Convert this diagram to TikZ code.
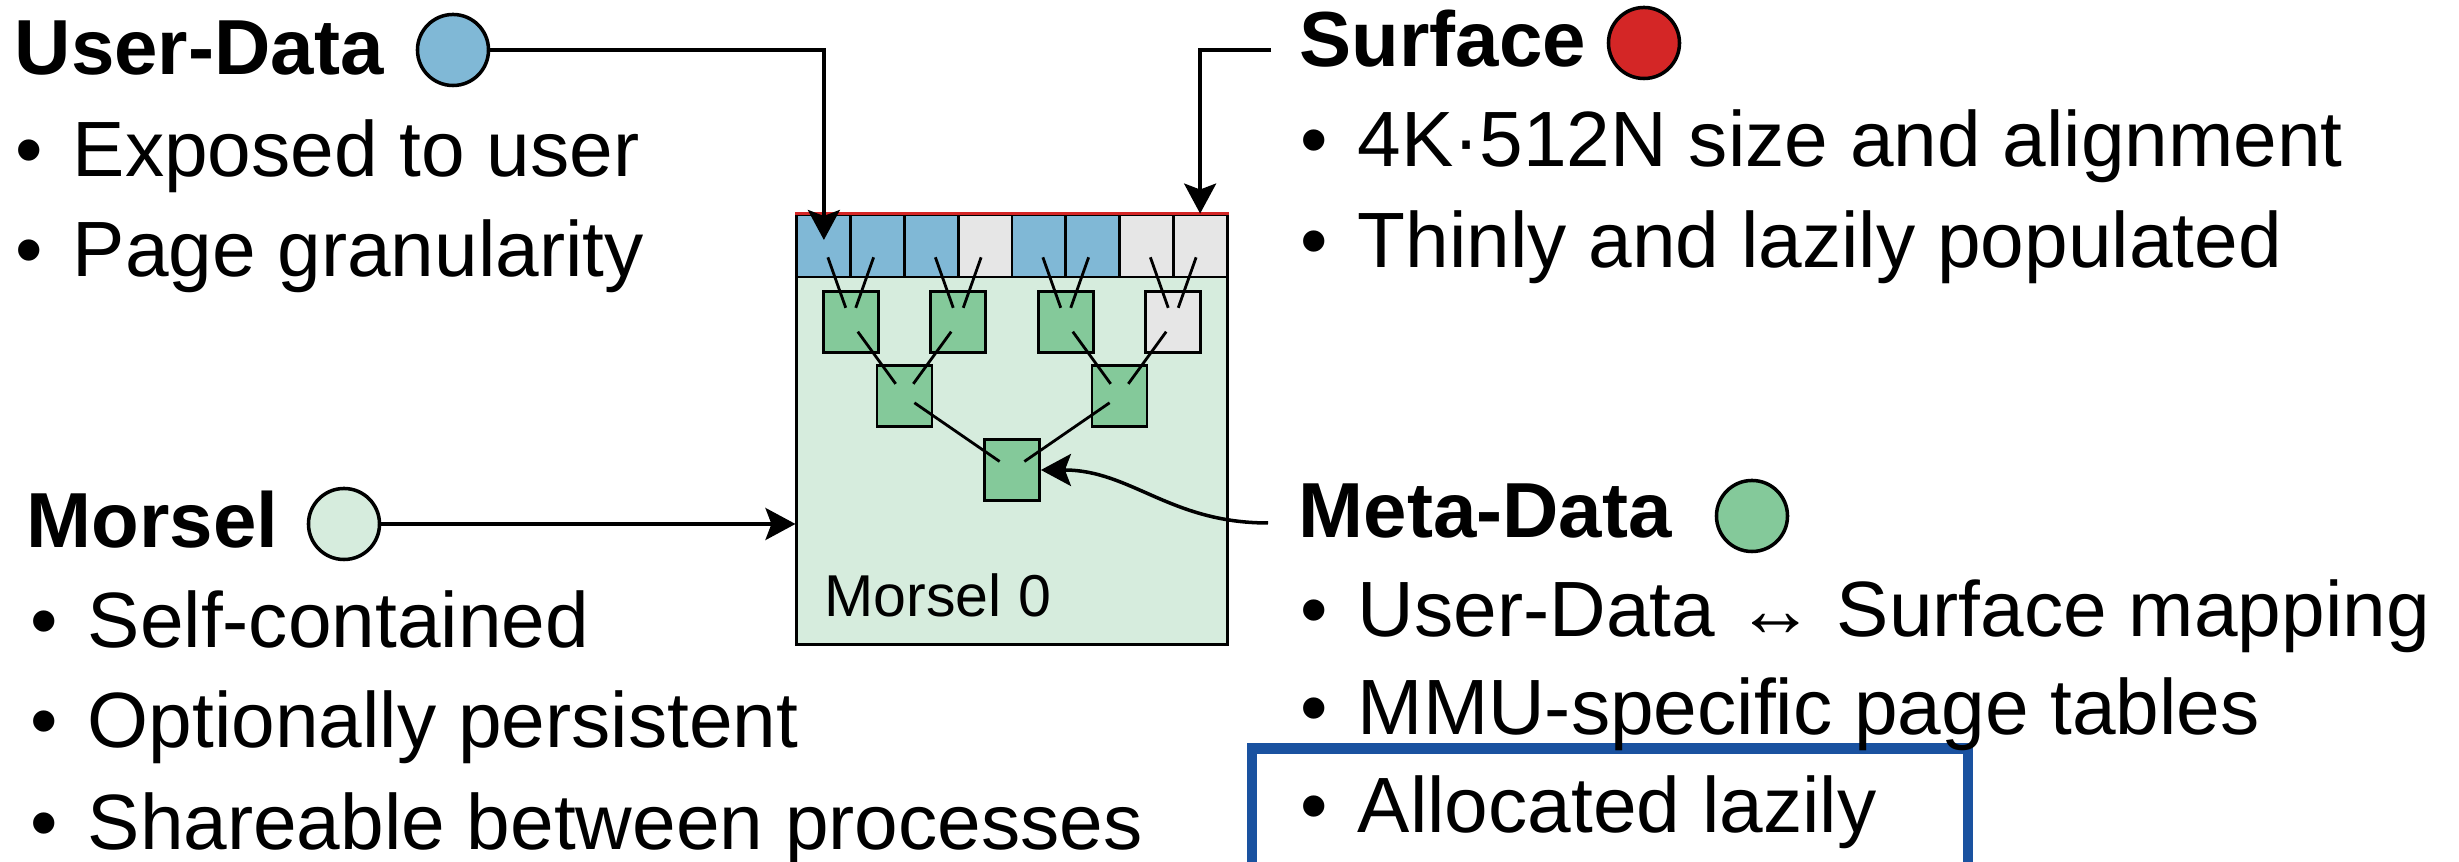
\documentclass[tikz,border=0pt]{standalone}
\usepackage{fontspec}
\setmainfont{Liberation Sans}
\usetikzlibrary{positioning, arrows.meta, calc}

\definecolor{udblue}{RGB}{128,184,214}
\definecolor{sfred}{RGB}{212,38,38}
\definecolor{mslight}{RGB}{214,236,221}
\definecolor{mdgreen}{RGB}{132,201,154}
\definecolor{freegray}{RGB}{230,230,230}
\definecolor{hlblue}{RGB}{26,82,160}

\newcommand{\bul}{\makebox[5.7mm][l]{\textbullet}}

\begin{document}
\begin{tikzpicture}[
    x=0.01cm, y=-0.01cm,
    >=Stealth,
    head/.style={anchor=base west, inner sep=0pt,
                 font=\fontsize{22.2}{26}\selectfont\bfseries},
    item/.style={anchor=base west, inner sep=0pt,
                 font=\fontsize{22.3}{26}\selectfont},
    dot/.style={circle, draw, line width=1pt, minimum size=7.1mm, inner sep=0pt},
    morsel/.style={rectangle, draw, line width=0.8pt, fill=mslight,
                   minimum width=43mm, minimum height=42.9mm},
    cell/.style={rectangle, draw, line width=0.8pt,
                 minimum width=5.375mm, minimum height=6.2mm, inner sep=0pt},
    tbox/.style={rectangle, draw, line width=0.8pt, fill=mdgreen,
                 minimum width=5.5mm, minimum height=6.1mm, inner sep=0pt},
    link/.style={line width=0.8pt, shorten <=1.2mm, shorten >=1.5mm},
    arrow/.style={-{Stealth[length=3mm, width=3.2mm, inset=0.6mm]}, line width=1pt}
]
  \useasboundingbox (0,0) rectangle (2459,862);

  % morsel with its pages
  \node[morsel] (ms) at (1012,429.5) {};
  \foreach \i/\c in {1/udblue,2/udblue,3/udblue,4/freegray,
                     5/udblue,6/udblue,7/freegray,8/freegray}
    \node[cell, fill=\c] (c\i) at ({797+53.75*(\i-0.5)},246) {};
  \draw[sfred, line width=0.9pt] (ms.north west) -- (ms.north east);
  \node[anchor=base west, inner sep=0pt, font=\fontsize{16.8}{20}\selectfont]
    (mslabel) at (824,617) {Morsel 0};

  % page table tree
  \node[tbox] (l1a) at ($(c1)!0.5!(c2)+(0,76)$) {};
  \node[tbox] (l1b) at ($(c3)!0.5!(c4)+(0,76)$) {};
  \node[tbox] (l1c) at ($(c5)!0.5!(c6)+(0,76)$) {};
  \node[tbox, fill=freegray] (l1d) at ($(c7)!0.5!(c8)+(0,76)$) {};
  \node[tbox] (l2a) at ($(l1a)!0.5!(l1b)+(0,74)$) {};
  \node[tbox] (l2b) at ($(l1c)!0.5!(l1d)+(0,74)$) {};
  \node[tbox] (l3) at ($(l2a)!0.5!(l2b)+(0,74)$) {};
  \foreach \a/\b in {c1/l1a, c2/l1a, c3/l1b, c4/l1b, c5/l1c, c6/l1c, c7/l1d, c8/l1d,
                     l1a/l2a, l1b/l2a, l1c/l2b, l1d/l2b, l2a/l3, l2b/l3}
    \draw[link] (\a.center) -- (\b.center);

  % highlight
  \draw[hlblue, line width=3pt] (1252,870) |- (1968,748.5) -- (1968,870);

  % User-Data
  \node[head] (udtitle) at (14,75) {User-Data};
  \node[dot, fill=udblue] (uddot) at (453,50) {};
  \node[item] (ud1) at (15,177) {\bul Exposed to user};
  \node[item] (ud2) at (15,277) {\bul Page granularity};

  % Surface
  \node[head] (sftitle) at (1299,67) {Surface};
  \node[dot, fill=sfred] (sfdot) at (1644,43) {};
  \node[item] (sf1) at (1300,167) {\bul 4K·512N size and alignment};
  \node[item] (sf2) at (1300,268) {\bul Thinly and lazily populated};

  % Morsel
  \node[head] (mstitle) at (26,548) {Morsel};
  \node[dot, fill=mslight] (msdot) at (344,524) {};
  \node[item] (ms1) at (30,648) {\bul Self-contained};
  \node[item] (ms2) at (30,748) {\bul Optionally persistent};
  \node[item] (ms3) at (30,850) {\bul Shareable between processes};

  % Meta-Data
  \node[head] (mdtitle) at (1298,538) {Meta-Data};
  \node[dot, fill=mdgreen] (mddot) at (1752,516) {};
  \node[item] (md1) at (1300,637) {\bul User-Data ↔ Surface mapping};
  \node[item] (md2) at (1300,735) {\bul MMU-specific page tables};
  \node[item] (md3) at (1300,833) {\bul Allocated lazily};

  \coordinate (sfin) at (1271,50);
  \coordinate (mdin) at (1268,523);

  \draw[arrow, shorten >=0.6mm] (uddot.east) -| (c1.center);
  \draw[arrow] (sfin) -| (c8.north);
  \draw[arrow] (msdot.east) -- (msdot -| ms.west);
  \draw[arrow] (mdin) .. controls +(-98,0) and +(90,0) .. (l3.east);
\end{tikzpicture}
\end{document}
